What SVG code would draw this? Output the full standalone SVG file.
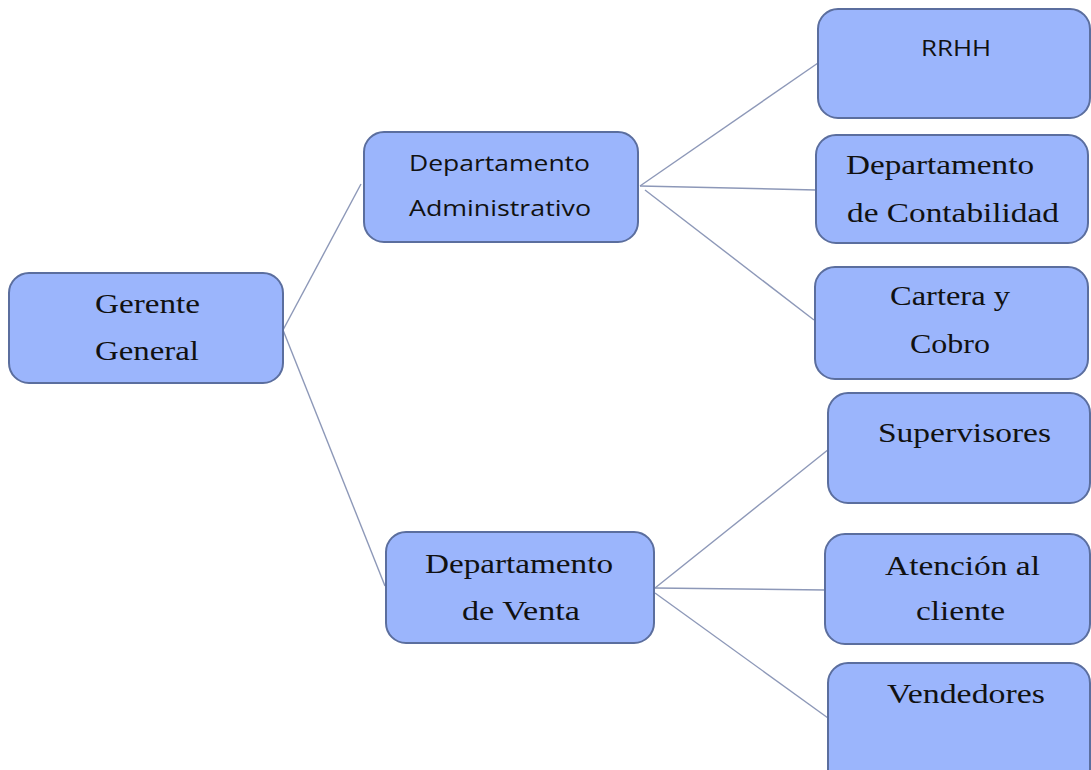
<svg xmlns="http://www.w3.org/2000/svg" width="1091" height="770" viewBox="0 0 1091 770">
<style>
.box{fill:#9bb5fc;stroke:#5b6e9e;stroke-width:2}
.ln{stroke:#8d98b8;stroke-width:1.4;fill:none}
.s{font-family:"Liberation Serif","Times New Roman",serif;font-size:27px;fill:#111}
.a{font-family:"Open Sans","Liberation Sans",sans-serif;font-size:21.5px;fill:#111}
</style>
<rect width="1091" height="770" fill="#fff"/>
<g id="connectors">
<line class="ln" x1="283" y1="330" x2="361" y2="184"/>
<line class="ln" x1="283" y1="330" x2="385" y2="586"/>
<line class="ln" x1="640" y1="186" x2="818" y2="63"/>
<line class="ln" x1="640" y1="186" x2="816" y2="190"/>
<line class="ln" x1="645" y1="190" x2="814" y2="320"/>
<line class="ln" x1="655" y1="588" x2="829" y2="449"/>
<line class="ln" x1="655" y1="588" x2="826" y2="590"/>
<line class="ln" x1="655" y1="593" x2="828" y2="718"/>
</g>
<g id="gerente">
<rect class="box" x="9" y="273" width="274" height="110" rx="20"/>
<text class="s" x="95" y="313" textLength="105" lengthAdjust="spacingAndGlyphs">Gerente</text>
<text class="s" x="95" y="360" textLength="104" lengthAdjust="spacingAndGlyphs">General</text>
</g>
<g id="admin">
<rect class="box" x="364" y="132" width="274" height="110" rx="20"/>
<text class="a" x="409" y="171" textLength="181" lengthAdjust="spacingAndGlyphs">Departamento</text>
<text class="a" x="409" y="216" textLength="182" lengthAdjust="spacingAndGlyphs">Administrativo</text>
</g>
<g id="rrhh">
<rect class="box" x="818" y="9" width="272" height="109" rx="20"/>
<text class="a" x="921" y="56" textLength="70" lengthAdjust="spacingAndGlyphs">RRHH</text>
</g>
<g id="contabilidad">
<rect class="box" x="816" y="135" width="272" height="108" rx="20"/>
<text class="s" x="846" y="174" textLength="188" lengthAdjust="spacingAndGlyphs">Departamento</text>
<text class="s" x="847" y="222" textLength="212" lengthAdjust="spacingAndGlyphs">de Contabilidad</text>
</g>
<g id="cartera">
<rect class="box" x="815" y="267" width="273" height="112" rx="20"/>
<text class="s" x="890" y="305" textLength="120" lengthAdjust="spacingAndGlyphs">Cartera y</text>
<text class="s" x="910" y="353" textLength="80" lengthAdjust="spacingAndGlyphs">Cobro</text>
</g>
<g id="venta">
<rect class="box" x="386" y="532" width="268" height="111" rx="20"/>
<text class="s" x="425" y="573" textLength="188" lengthAdjust="spacingAndGlyphs">Departamento</text>
<text class="s" x="462" y="620" textLength="118" lengthAdjust="spacingAndGlyphs">de Venta</text>
</g>
<g id="supervisores">
<rect class="box" x="828" y="393" width="262" height="110" rx="20"/>
<text class="s" x="878" y="442" textLength="173" lengthAdjust="spacingAndGlyphs">Supervisores</text>
</g>
<g id="atencion">
<rect class="box" x="825" y="534" width="265" height="110" rx="20"/>
<text class="s" x="885" y="575" textLength="155" lengthAdjust="spacingAndGlyphs">Atención al</text>
<text class="s" x="916" y="620" textLength="89" lengthAdjust="spacingAndGlyphs">cliente</text>
</g>
<g id="vendedores">
<rect class="box" x="828" y="663" width="262" height="130" rx="20"/>
<text class="s" x="887" y="703" textLength="158" lengthAdjust="spacingAndGlyphs">Vendedores</text>
</g>
</svg>
